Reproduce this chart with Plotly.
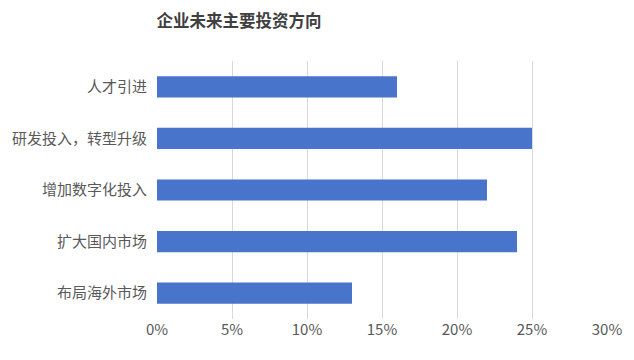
import plotly.graph_objects as go

categories = ["人才引进", "研发投入，转型升级", "增加数字化投入", "扩大国内市场", "布局海外市场"]
values = [0.16, 0.25, 0.22, 0.24, 0.13]
tick_vals = [0, 0.05, 0.10, 0.15, 0.20, 0.25, 0.30]
tick_text = ["0%", "5%", "10%", "15%", "20%", "25%", "30%"]
title_text = "企业未来主要投资方向"

font_family = "Noto Sans CJK SC, Noto Sans, sans-serif"

fig = go.Figure(
    go.Bar(
        x=values,
        y=categories,
        orientation="h",
        marker=dict(color="#4874CB", line=dict(width=0)),
        width=0.41,
        hoverinfo="x+y",
    )
)

fig.update_layout(
    width=634,
    height=360,
    margin=dict(l=157, r=24, t=61, b=41),
    paper_bgcolor="white",
    plot_bgcolor="white",
    showlegend=False,
    font=dict(family=font_family, color="#595959", size=15),
    title=dict(
        text=title_text,
        x=239 / 634,
        xanchor="center",
        xref="container",
        y=1 - 21 / 360,
        yanchor="middle",
        yref="container",
        font=dict(family=font_family, size=16.5, color="#404040", weight="bold"),
    ),
    xaxis=dict(
        range=[0, 0.30],
        tickvals=tick_vals,
        ticktext=tick_text,
        showgrid=True,
        gridcolor="#D9D9D9",
        gridwidth=1,
        zeroline=False,
        showline=False,
        ticks="",
        tickfont=dict(size=15, color="#595959"),
        fixedrange=True,
    ),
    yaxis=dict(
        categoryorder="array",
        categoryarray=categories[::-1],
        autorange=True,
        showgrid=False,
        zeroline=False,
        showline=False,
        ticks="",
        ticklabelstandoff=9,
        tickfont=dict(size=15, color="#595959"),
        fixedrange=True,
    ),
    bargap=0.59,
)

fig.write_html(
    "out.html",
    config={"displayModeBar": False},
    post_script="document.body.style.margin='0';document.body.style.padding='0';",
)
